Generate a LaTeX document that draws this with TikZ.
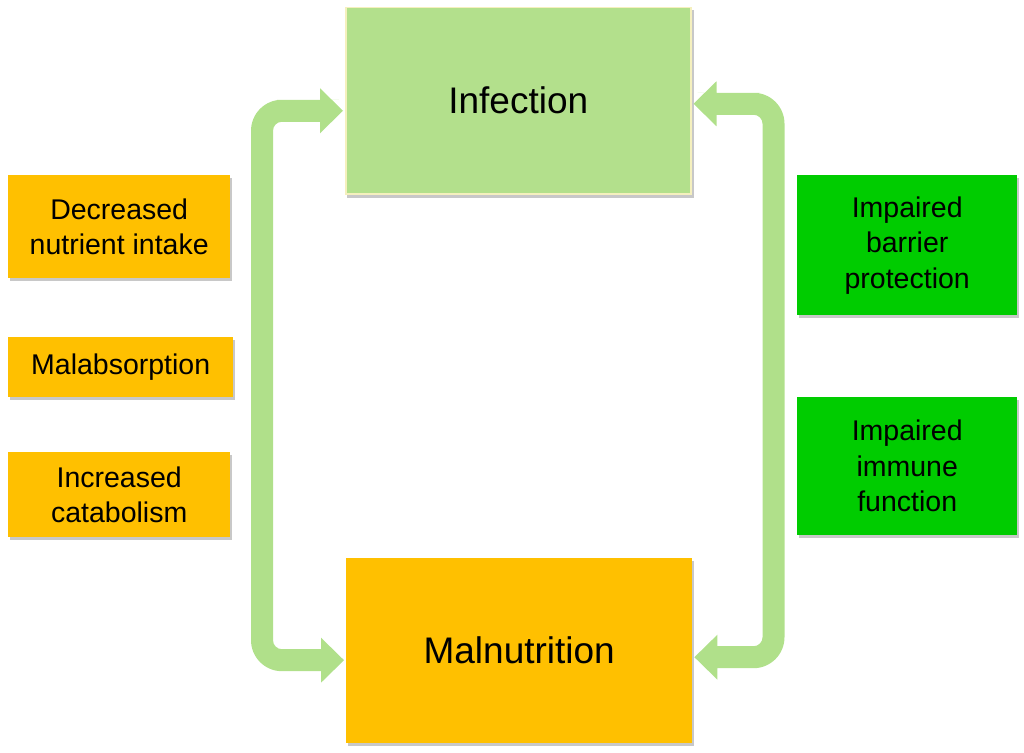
\documentclass[tikz,border=0pt]{standalone}
\usepackage{fontspec}
\setmainfont{Liberation Sans}
\usetikzlibrary{calc}
\definecolor{lgreen}{RGB}{179,224,140}
\definecolor{agreen}{RGB}{176,224,138}
\definecolor{orng}{RGB}{255,192,0}
\definecolor{dgreen}{RGB}{0,204,0}
\definecolor{pale}{RGB}{245,240,190}
\definecolor{shade}{RGB}{200,200,200}
\pgfdeclarelayer{bg}
\pgfsetlayers{bg,main}
\tikzset{
  box/.style={anchor=north west, inner sep=0pt, align=center, text=black},
  smallbox/.style={box, font=\fontsize{28.5pt}{35.5pt}\selectfont},
  bigbox/.style={box, font=\fontsize{37pt}{44pt}\selectfont},
  cause/.style={smallbox, fill=orng},
  defect/.style={smallbox, fill=dgreen},
  cyclearrow/.style={fill=agreen},
  boxshadow/.style={fill=shade}
}
\begin{document}
\begin{tikzpicture}[x=1pt,y=-1pt]
\useasboundingbox (0,0) rectangle (1024,752);
% main boxes
\node[bigbox, fill=lgreen, draw=pale, line width=1.5pt, minimum width=345pt, minimum height=186pt] (inf) at (345,7) {Infection};
\node[bigbox, fill=orng, minimum width=346pt, minimum height=185pt] (mal) at (346,558) {Malnutrition};
% left boxes
\node[cause, minimum width=222pt, minimum height=103pt] (dec) at (8,175) {Decreased\\nutrient intake};
\node[cause, minimum width=225pt, minimum height=60pt] (malab) at (8,337) {Malabsorption};
\node[cause, minimum width=222pt, minimum height=85pt] (incr) at (8,452) {Increased\\catabolism};
% right boxes
\node[defect, minimum width=220pt, minimum height=140pt] (barr) at (797,175) {Impaired\\barrier\\protection};
\node[defect, minimum width=220pt, minimum height=138pt] (immu) at (797,397) {Impaired\\immune\\function};
% shadows
\begin{pgfonlayer}{bg}
\foreach \n in {inf,mal,dec,malab,incr,barr,immu}
  \fill[boxshadow] ($(\n.north west)+(2,3)$) rectangle ($(\n.south east)+(2,3)$);
\end{pgfonlayer}
% arrow end points
\coordinate (lt) at ([xshift=-2pt,yshift=-10pt]inf.west);
\coordinate (lb) at ([xshift=-2pt,yshift=-9.5pt]mal.west);
\coordinate (rt) at ([xshift=2pt,yshift=-3pt]inf.east);
\coordinate (rb) at ([xshift=2pt,yshift=-6.5pt]mal.east);
\coordinate (lc) at ($(lt)+(-81,0)$);
\coordinate (rc) at ($(rt)+(80,0)$);
% left double arrow
\fill[cyclearrow]
  ($(lt)+(-23,-11)$) -- ($(lt)+(-23,-22.5)$) -- (lt) -- ($(lt)+(-23,22.5)$)
  -- ($(lt)+(-23,11)$) -- ($(lt)+(-35,11)$)
  [rounded corners=9pt] -- ($(lc |- lt)+(11,11)$) -- ($(lc |- lb)+(11,-11)$)
  -- ($(lb)+(-35,-11)$)
  [sharp corners] -- ($(lb)+(-23,-11)$) -- ($(lb)+(-23,-22.5)$) -- (lb)
  -- ($(lb)+(-23,22.5)$) -- ($(lb)+(-23,11)$) -- ($(lb)+(-35,11)$)
  [rounded corners=31pt] -- ($(lc |- lb)+(-11,11)$) -- ($(lc |- lt)+(-11,-11)$)
  -- ($(lt)+(-35,-11)$)
  [sharp corners] -- cycle;
% right double arrow
\fill[cyclearrow]
  ($(rt)+(23,-11)$) -- ($(rt)+(23,-22.5)$) -- (rt) -- ($(rt)+(23,22.5)$)
  -- ($(rt)+(23,11)$) -- ($(rt)+(35,11)$)
  [rounded corners=9pt] -- ($(rc |- rt)+(-11,11)$) -- ($(rc |- rb)+(-11,-11)$)
  -- ($(rb)+(35,-11)$)
  [sharp corners] -- ($(rb)+(23,-11)$) -- ($(rb)+(23,-22.5)$) -- (rb)
  -- ($(rb)+(23,22.5)$) -- ($(rb)+(23,11)$) -- ($(rb)+(35,11)$)
  [rounded corners=31pt] -- ($(rc |- rb)+(11,11)$) -- ($(rc |- rt)+(11,-11)$)
  -- ($(rt)+(35,-11)$)
  [sharp corners] -- cycle;
\end{tikzpicture}
\end{document}
